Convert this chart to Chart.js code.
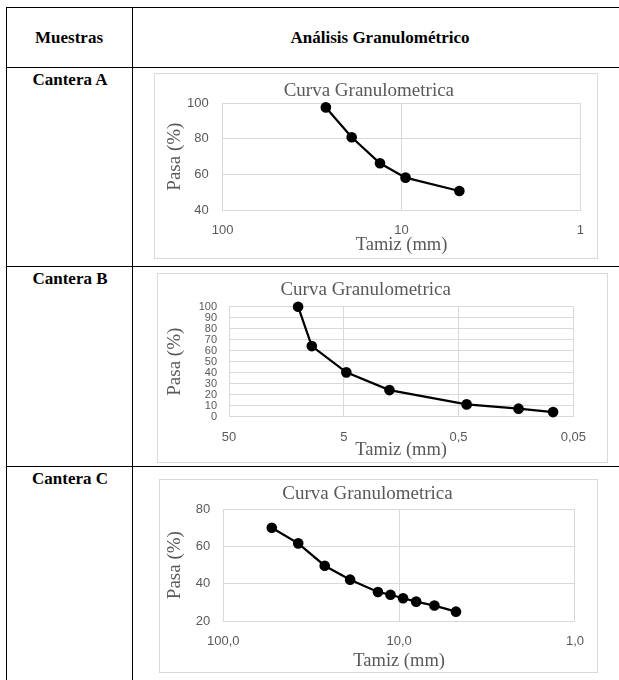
<!DOCTYPE html>
<html>
<head>
<meta charset="utf-8">
<script src="https://cdn.jsdelivr.net/npm/chart.js@4.4.1/dist/chart.umd.min.js"></script>
<style>
  body { margin: 0; background: #fff; width: 619px; height: 680px; overflow: hidden; position: relative; font-family: 'Liberation Serif', 'DejaVu Serif', serif; }
  .hl { position: absolute; height: 1px; background: #000; }
  .vl { position: absolute; width: 1px; background: #000; }
  .cell { position: absolute; font-family: 'Liberation Serif', 'DejaVu Serif', serif; font-weight: bold; font-size: 17px; color: #000; white-space: nowrap; transform: translate(-50%, -50%); }
  .box { position: absolute; border: 1px solid #d9d9d9; box-sizing: border-box; }
  .box canvas { position: absolute; left: 0; top: 0; }
</style>
</head>
<body>
<!-- table lines -->
<div class="hl" style="left:6px; top:7px; width:613px;"></div>
<div class="hl" style="left:6px; top:67px; width:613px;"></div>
<div class="hl" style="left:6px; top:266px; width:613px;"></div>
<div class="hl" style="left:6px; top:466px; width:613px;"></div>
<div class="vl" style="left:6px; top:7px; height:673px;"></div>
<div class="vl" style="left:132px; top:7px; height:673px;"></div>

<div class="cell" style="left:69px; top:38px;">Muestras</div>
<div class="cell" style="left:380px; top:38px;">Análisis Granulométrico</div>
<div class="cell" style="left:70px; top:80px;">Cantera A</div>
<div class="cell" style="left:70px; top:279px;">Cantera B</div>
<div class="cell" style="left:70px; top:479px;">Cantera C</div>

<div class="box" style="left:154px; top:73px; width:444px; height:186px;">
  <canvas id="chartA" width="442" height="184"></canvas>
</div>
<div class="box" style="left:157px; top:273px; width:451px; height:190px;">
  <canvas id="chartB" width="449" height="188"></canvas>
</div>
<div class="box" style="left:159px; top:479px; width:439px; height:194px;">
  <canvas id="chartC" width="437" height="192"></canvas>
</div>

<script>
// Cantera A
const tamizA = [26.5, 19, 13.2, 9.5, 4.75];
const pasaA = [97.7, 80.9, 66.3, 58.2, 50.7];
const xTicksA = [100, 10, 1];
const xLabelsA = ['100', '10', '1'];

// Cantera B
const tamizB = [12.5, 9.5, 4.75, 2.0, 0.425, 0.15, 0.075];
const pasaB = [100, 64.2, 40.3, 24.2, 11.2, 7.3, 4.2];
const xTicksB = [50, 5, 0.5, 0.05];
const xLabelsB = ['50', '5', '0,5', '0,05'];

// Cantera C
const tamizC = [53, 37.5, 26.5, 19, 13.2, 11.2, 9.5, 8.0, 6.3, 4.75];
const pasaC = [70.1, 61.7, 49.7, 42.2, 35.6, 34.1, 32.2, 30.4, 28.3, 25.0];
const xTicksC = [100, 10, 1];
const xLabelsC = ['100,0', '10,0', '1,0'];

const GRID = '#d9d9d9';
const TEXT = '#595959';
const SERIF = "'Liberation Serif', 'Times New Roman', serif";
const SANS = "'Liberation Sans', Arial, sans-serif";

// L holds plot-area edges and title centres, in canvas pixels
function makeChart(id, tamiz, pasa, xTicks, xLabels, yMin, yMax, yStep, L) {
    const canvas = document.getElementById(id);
    const W = canvas.width, H = canvas.height;
    const titleLH = 19 * 1.2, xTitleLH = 18.5 * 1.2, yTitleLH = 19 * 1.2;

    return new Chart(canvas, {
        type: 'scatter',
        data: {
            datasets: [{
                data: tamiz.map((t, i) => ({ x: t, y: pasa[i] })),
                showLine: true,
                borderColor: '#000',
                backgroundColor: '#000',
                borderWidth: 2.25,
                pointRadius: 4.2,
                pointHoverRadius: 4.2,
                clip: false
            }]
        },
        options: {
            responsive: false,
            animation: false,
            devicePixelRatio: 1,
            layout: { padding: { left: 0, top: L.titleY - titleLH / 2, right: W - L.right, bottom: 0 } },
            plugins: {
                legend: { display: false },
                tooltip: { enabled: false },
                title: {
                    display: true,
                    text: 'Curva Granulometrica',
                    color: TEXT,
                    font: { family: SERIF, size: 19, weight: 'normal' },
                    padding: { top: 0, bottom: L.top - L.titleY - titleLH / 2 }
                }
            },
            scales: {
                x: {
                    type: 'logarithmic',
                    reverse: true,
                    min: xTicks[xTicks.length - 1],
                    max: xTicks[0],
                    afterBuildTicks: s => { s.ticks = xTicks.map(v => ({ value: v })); },
                    afterFit: s => { s.height = H - L.bottom; },
                    ticks: {
                        autoSkip: false,
                        maxRotation: 0,
                        color: TEXT,
                        font: { family: SANS, size: 13 },
                        padding: L.xPad,
                        callback: (v, i) => xLabels[i]
                    },
                    grid: { color: GRID, drawTicks: false },
                    border: { display: true, color: GRID },
                    title: {
                        display: true,
                        text: 'Tamiz (mm)',
                        color: TEXT,
                        font: { family: SERIF, size: 18.5 },
                        padding: { top: 0, bottom: Math.max(0, H - L.xTitleY - xTitleLH / 2) }
                    }
                },
                y: {
                    min: yMin,
                    max: yMax,
                    afterFit: s => { s.width = L.left; },
                    ticks: {
                        stepSize: yStep,
                        autoSkip: false,
                        color: TEXT,
                        font: { family: SANS, size: L.yFont },
                        padding: L.yPad
                    },
                    grid: { color: GRID, drawTicks: false },
                    border: { display: true, color: GRID },
                    title: {
                        display: true,
                        text: 'Pasa (%)',
                        color: TEXT,
                        font: { family: SERIF, size: 19 },
                        padding: { top: L.yTitleX - yTitleLH / 2, bottom: 0 }
                    }
                }
            }
        }
    });
}

makeChart('chartA', tamizA, pasaA, xTicksA, xLabelsA, 40, 100, 20,
    { left: 67.7, right: 427.7, top: 29.3, bottom: 136, titleY: 16.7, xTitleY: 171, yTitleX: 20, xPad: 13, yPad: 14, yFont: 13 });
makeChart('chartB', tamizB, pasaB, xTicksB, xLabelsB, 0, 100, 10,
    { left: 71, right: 415.3, top: 32.7, bottom: 142.7, titleY: 16, xTitleY: 176, yTitleX: 17, xPad: 13, yPad: 12, yFont: 11 });
makeChart('chartC', tamizC, pasaC, xTicksC, xLabelsC, 20, 80, 20,
    { left: 63.3, right: 415, top: 29.3, bottom: 141, titleY: 14, xTitleY: 181.7, yTitleX: 15, xPad: 13, yPad: 13, yFont: 13 });
</script>
</body>
</html>
